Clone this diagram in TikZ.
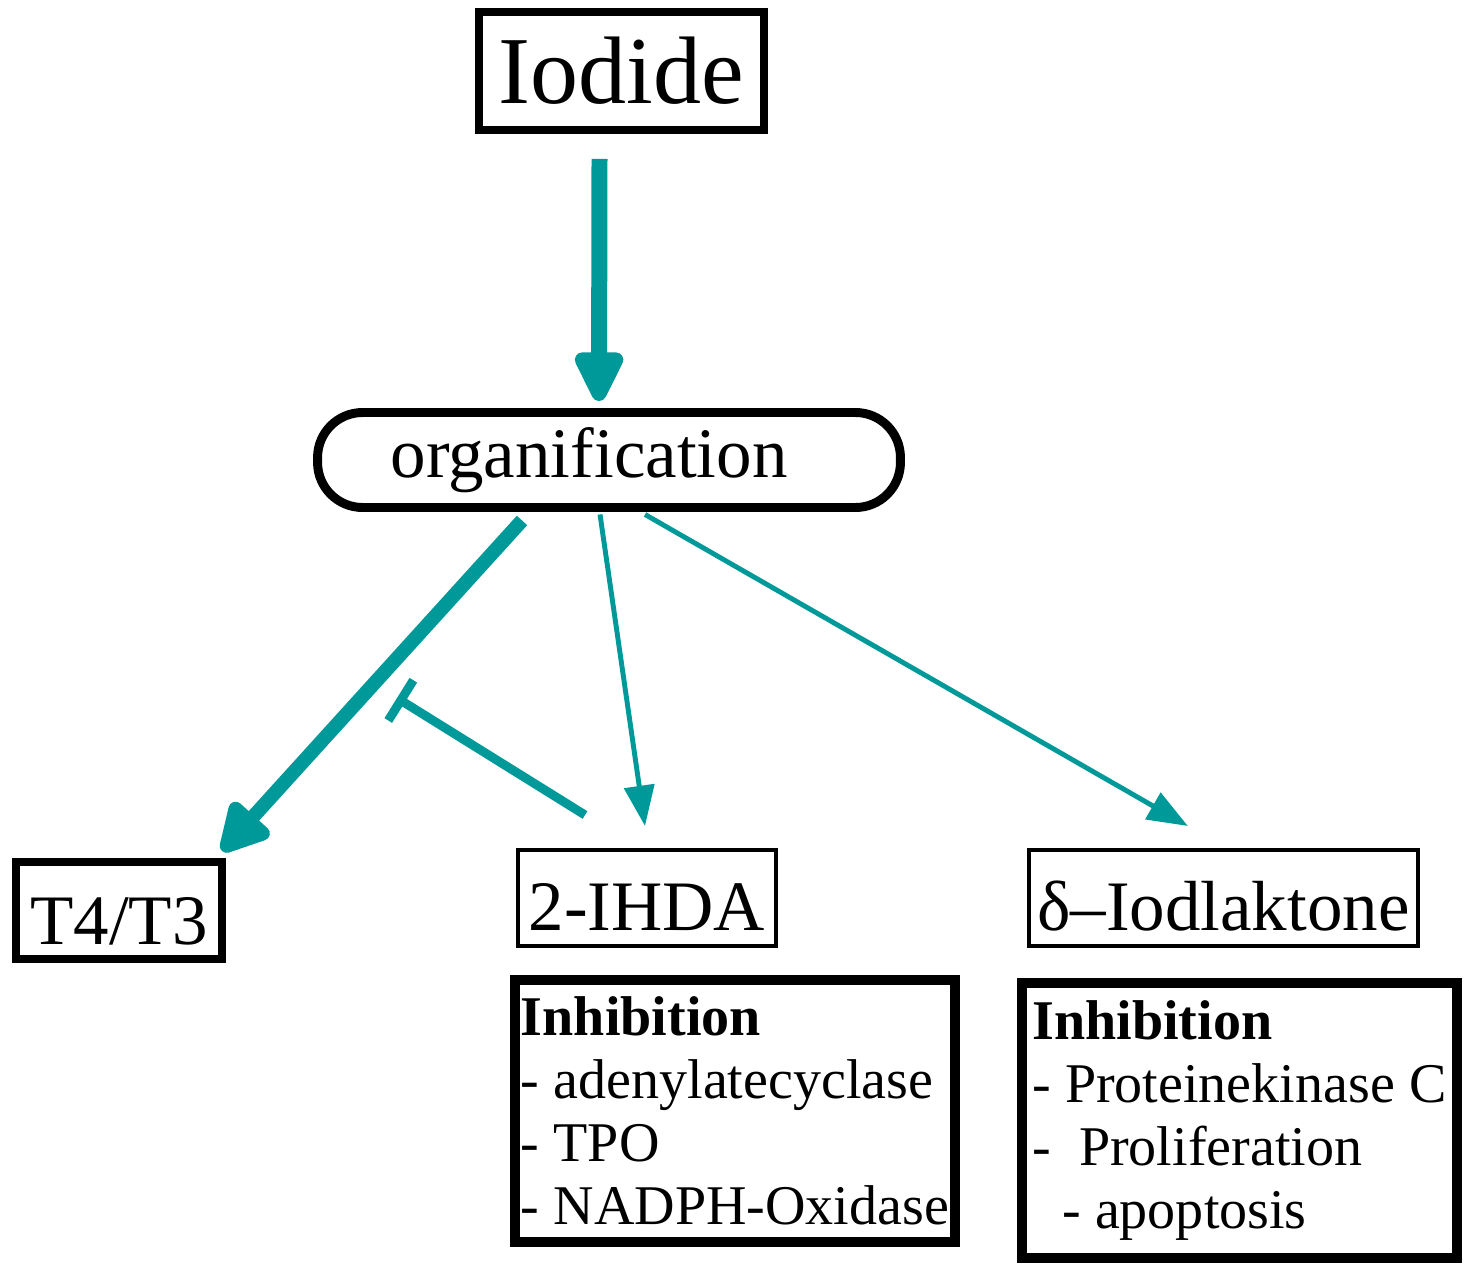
\documentclass[tikz,border=0pt]{standalone}
\usepackage{fontspec}
\setmainfont{Liberation Serif}
\usetikzlibrary{arrows.meta,positioning}
\definecolor{iodteal}{RGB}{0,153,153}

\begin{document}
\begin{tikzpicture}[x=0.02cm,y=-0.02cm,on grid]
	\tikzstyle{every node}=[inner sep=0pt]
	\tikzstyle{thickbox}=[draw,line width=4.5pt,font=\fontsize{40.4}{44}\selectfont]
	\tikzstyle{thinbox}=[draw,line width=2.3pt,minimum height=1.92cm,text height=1.28cm,text depth=0pt,font=\fontsize{40.4}{44}\selectfont]
	\tikzstyle{pill}=[draw,line width=5.1pt,rounded corners=0.9cm,minimum width=11.66cm,minimum height=1.9cm,font=\fontsize{40.4}{44}\selectfont]
	\tikzstyle{listbox}=[draw,line width=5.7pt,align=left,font=\fontsize{31.9}{35.85}\selectfont]
	\tikzstyle{flow}=[draw=iodteal,fill=iodteal]
	\useasboundingbox (0,0) rectangle (1466,1267);

	\node[thickbox,minimum width=5.7cm,minimum height=2.36cm,font=\fontsize{54.6}{60}\selectfont] (iodide) at (621.5,71) {Iodide};
	\node[pill] (organif) at (609,460) {organification\hspace*{0.8cm}};
	\node[thickbox,minimum width=4.12cm,minimum height=1.94cm,text height=1.34cm,text depth=0pt] (t4) at (119,910.5) {T4/T3};
	\node[thinbox,minimum width=5.16cm] (ihda) at (647,898) {2-IHDA};
	\node[thinbox,minimum width=7.78cm] (delta) [right=11.53cm of ihda] {δ–Iodlaktone};
	\node[listbox,minimum width=8.8cm,minimum height=5.24cm] (inhibA) [below=4.26cm of ihda,xshift=1.76cm]
		{\textbf{Inhibition}\\- adenylatecyclase\\- TPO\\- NADPH-Oxidase};
	\node[listbox,minimum width=8.7cm,minimum height=5.5cm] (inhibB) [below=4.45cm of delta,xshift=0.32cm]
		{\textbf{Inhibition}\\- Proteinekinase C\\-\ \ Proliferation\\\hspace*{0.6cm}- apoptosis};
	\coordinate (block) at (397,698);

	% iodide -> organification
	\draw[flow,line width=9.1pt,-{Triangle[round,length=34pt,width=30pt]}]
		([shift={(-22,25)}]iodide.south) -- ([shift={(-10,-7)}]organif.north);
	% organification -> products
	\draw[flow,line width=8pt,-{Triangle[round,length=32pt,width=32pt]}]
		([shift={(-87,8.5)}]organif.south) -- ([shift={(103,-7)}]t4.north);
	\draw[flow,line width=2.8pt,-{Triangle[length=23pt,width=17pt]}]
		([shift={(-9,2.5)}]organif.south) -- ([shift={(-2,-22)}]ihda.north);
	\draw[flow,line width=2.8pt,-{Triangle[length=23pt,width=17pt]}]
		([shift={(36,2.5)}]organif.south) -- ([shift={(-35.5,-22)}]delta.north);
	% 2-IHDA blocks T4/T3
	\draw[flow,line width=5.1pt,-{Bar[width=27pt]}]
		([shift={(-62,-33)}]ihda.north) -- (block);
\end{tikzpicture}
\end{document}
